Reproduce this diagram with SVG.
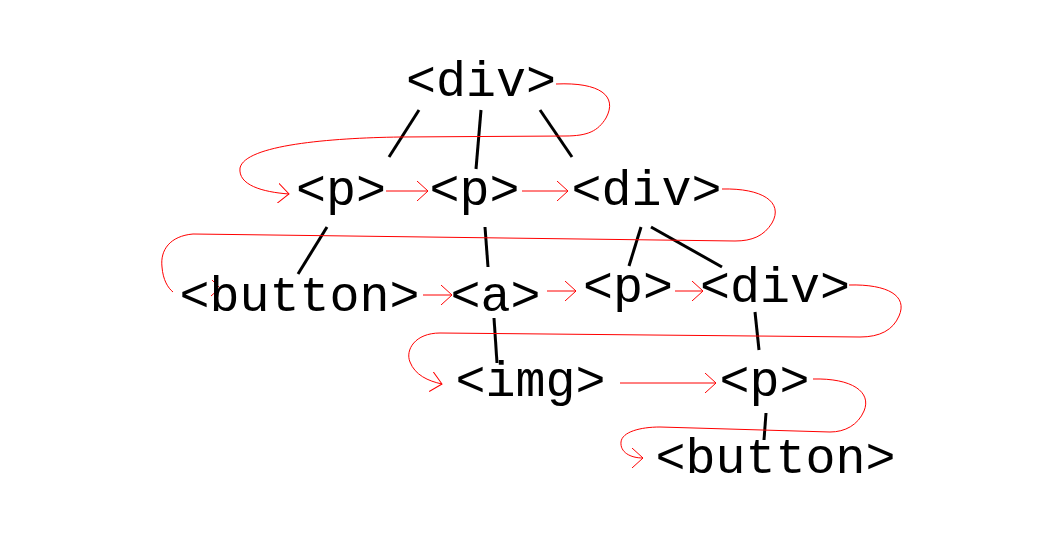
<svg xmlns="http://www.w3.org/2000/svg" width="1063" height="546" viewBox="0 0 1063 546">
<style>
  .n text { font-family: "Courier New", "Liberation Mono", monospace; font-size: 50px; fill: #000; text-anchor: middle; }
  .t { stroke: #000; stroke-width: 3; fill: none; }
  .s { stroke: #ff0000; stroke-width: 1; fill: none; }
</style>
<defs>
  <marker id="ah" viewBox="0 0 12 20" refX="11" refY="10" markerWidth="12" markerHeight="20" markerUnits="userSpaceOnUse" orient="auto">
    <path d="M0,0 L11,10 L0,20" fill="none" stroke="#ff0000" stroke-width="1"/>
  </marker>
</defs>
<rect width="1063" height="546" fill="#fff"/>
<g id="connectors">
  <g id="tree-edges">
    <line class="t" x1="419" y1="110" x2="389" y2="157"/>
    <line class="t" x1="481" y1="110" x2="476" y2="169"/>
    <line class="t" x1="540" y1="110" x2="572" y2="157"/>
    <line class="t" x1="327" y1="227" x2="298" y2="274"/>
    <line class="t" x1="485" y1="227" x2="488" y2="267"/>
    <line class="t" x1="641" y1="227" x2="629" y2="266"/>
    <line class="t" x1="651" y1="227" x2="722" y2="267"/>
    <line class="t" x1="494" y1="318" x2="497" y2="363"/>
    <line class="t" x1="755" y1="312" x2="759" y2="350"/>
    <line class="t" x1="766" y1="413" x2="764" y2="440"/>
  </g>
  <g id="order-edges">
    <path class="s" marker-end="url(#ah)" d="M556,84 C600,82 618,96 606,118 C598,131 588,136 565,136 L400,137 C330,138 245,145 240,168 C238,185 262,192 289,194"/>
    <line class="s" marker-end="url(#ah)" x1="386" y1="191" x2="428" y2="191"/>
    <line class="s" marker-end="url(#ah)" x1="522" y1="191" x2="568" y2="191"/>
    <path class="s" d="M722,189 C762,188 784,202 772,223 C764,236 752,241 735,241 L193,234 C170,236 160,250 162,267 C163,280 168,288 173,292"/>
    <path class="s" d="M212,280 L220,288 L211,296"/>
    <line class="s" marker-end="url(#ah)" x1="423" y1="295" x2="452" y2="295"/>
    <line class="s" marker-end="url(#ah)" x1="547" y1="291" x2="576" y2="291"/>
    <line class="s" marker-end="url(#ah)" x1="675" y1="291" x2="703" y2="291"/>
    <path class="s" marker-end="url(#ah)" d="M849,285 C888,284 908,296 899,316 C893,330 880,337 860,337 L440,333 C415,333 405,350 410,362 C415,375 428,381 442,384"/>
    <line class="s" marker-end="url(#ah)" x1="620" y1="383" x2="716" y2="383"/>
    <path class="s" marker-end="url(#ah)" d="M813,379 C852,378 872,392 864,411 C858,425 845,432 830,432 L660,427 C640,427 622,432 621,442 C620,452 630,458 643,458"/>
  </g>
</g>
<g id="n-div-root" class="n"><text x="481" y="96">&lt;div&gt;</text></g>
<g id="n-p1" class="n"><text x="341" y="205">&lt;p&gt;</text></g>
<g id="n-p2" class="n"><text x="474.5" y="205">&lt;p&gt;</text></g>
<g id="n-div2" class="n"><text x="646.5" y="205">&lt;div&gt;</text></g>
<g id="n-button1" class="n"><text x="299.5" y="311">&lt;button&gt;</text></g>
<g id="n-a" class="n"><text x="495.5" y="311">&lt;a&gt;</text></g>
<g id="n-p3" class="n"><text x="628" y="302">&lt;p&gt;</text></g>
<g id="n-div3" class="n"><text x="775" y="302">&lt;div&gt;</text></g>
<g id="n-img" class="n"><text x="530.5" y="396">&lt;img&gt;</text></g>
<g id="n-p4" class="n"><text x="764.5" y="396">&lt;p&gt;</text></g>
<g id="n-button2" class="n"><text x="775.5" y="473">&lt;button&gt;</text></g>
</svg>
